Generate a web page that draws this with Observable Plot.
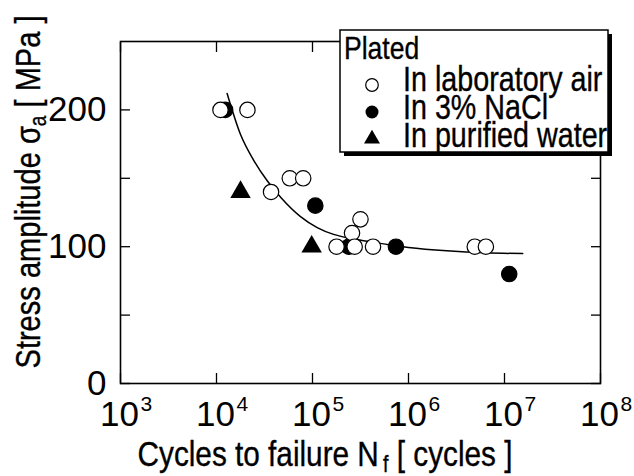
<!DOCTYPE html>
<html><head><meta charset="utf-8">
<script src="https://cdn.jsdelivr.net/npm/d3@7"></script>
<script src="https://cdn.jsdelivr.net/npm/@observablehq/plot@0.6"></script>
<style>body{margin:0;background:#fff}</style>
</head><body><div id="chart"></div>
<script>
// Plated, in laboratory air (open circles)
const airN = [1.1e4, 2.1e4, 3.7e4, 5.8e4, 8.0e4, 1.78e5, 2.58e5, 2.75e5, 3.16e5, 4.27e5, 4.9e6, 6.4e6];
const airS = [200, 200, 140, 150, 150, 100, 110, 100, 120, 100, 100, 100];
// Plated, in 3% NaCl (filled circles)
const naclN = [1.23e4, 1.07e5, 2.39e5, 7.4e5, 1.12e7];
const naclS = [200, 130, 100, 100, 80];
// Plated, in purified water (filled triangles)
const waterN = [1.78e4, 9.8e4];
const waterS = [140, 100];
// Fitted S-N curve
const fitN = [1.29e4, 1.78e4, 2.45e4, 3.39e4, 4.68e4, 7.5e4, 1.12e5, 1.66e5, 2.51e5, 3.72e5, 6.17e5, 1e6, 2.51e6, 6.31e6, 1.55e7];
const fitS = [212, 182, 163, 148, 136, 122, 114, 109, 106, 104, 101.5, 99.5, 97, 95.5, 95];
// Axis ticks
const xTicks = [1e3, 1e4, 1e5, 1e6, 1e7, 1e8];
const xExp = ["3", "4", "5", "6", "7", "8"];
const yTicks = [0, 50, 100, 150, 200];
const yLabels = [0, 100, 200];
const legendTitle = "Plated";
const legendItems = ["In laboratory air", "In 3% NaCl", "In purified water"];

const air = airN.map((n, i) => ({n, s: airS[i]}));
const nacl = naclN.map((n, i) => ({n, s: naclS[i]}));
const water = waterN.map((n, i) => ({n, s: waterS[i]}));
const fit = fitN.map((n, i) => ({n, s: fitS[i]}));
const FONT = "'Liberation Sans', Arial, Helvetica, sans-serif";
const SX = 0.83; // condensed look of the original Helvetica-like face

const svgEl = Plot.plot({
  width: 634, height: 476,
  marginLeft: 120, marginRight: 34, marginTop: 41, marginBottom: 93,
  x: {type: "log", domain: [1e3, 1e8]},
  y: {domain: [0, 250]},
  style: {fontFamily: FONT, fontSize: "35px", color: "black", background: "white"},
  marks: [
    Plot.axisX({anchor: "bottom", ticks: xTicks, tickSize: -10, tickFormat: () => "", label: null, strokeWidth: 1.3}),
    Plot.axisX({anchor: "top", ticks: xTicks, tickSize: -10, tickFormat: () => "", label: null, strokeWidth: 1.3}),
    Plot.axisY({anchor: "left", ticks: yTicks, tickSize: -10, tickFormat: () => "", label: null, strokeWidth: 1.3}),
    Plot.axisY({anchor: "right", ticks: yTicks, tickSize: -10, tickFormat: () => "", label: null, strokeWidth: 1.3}),
    Plot.frame({stroke: "black", strokeWidth: 1.6}),
    Plot.text(xTicks, {x: d => d, frameAnchor: "bottom", text: () => "10", lineAnchor: "bottom", dy: 42, dx: -1, fontSize: 35, ariaLabel: "xtick"}),
    Plot.text(xTicks, {x: d => d, frameAnchor: "bottom", text: (d, i) => xExp[i], lineAnchor: "bottom", dy: 27, dx: 20, textAnchor: "start", fontSize: 21, ariaLabel: "xtick"}),
    Plot.text(yLabels, {y: d => d, frameAnchor: "left", text: d => String(d), textAnchor: "end", dx: -14, fontSize: 35, ariaLabel: "ytick"}),
    Plot.line(fit, {x: "n", y: "s", curve: "monotone-x", stroke: "black", strokeWidth: 1.5}),
    Plot.dot(water, {x: "n", y: "s", symbol: "triangle", r: 7.6, fill: "black", stroke: "none"}),
    Plot.dot(nacl, {x: "n", y: "s", r: 7.7, fill: "black", stroke: "black", strokeWidth: 1.2}),
    Plot.dot(air, {x: "n", y: "s", r: 7.7, fill: "white", stroke: "black", strokeWidth: 1.2})
  ]
});
document.getElementById("chart").appendChild(svgEl);

const svg = d3.select(svgEl);
// condense the tick-label glyphs horizontally (about their anchor) and thicken slightly
function condense(sel, k) {
  sel.each(function () {
    const t = this.getAttribute("transform") || "";
    this.setAttribute("transform", t + ` scale(${k},1)`);
    this.setAttribute("stroke", "black");
    this.setAttribute("stroke-width", "0.35");
  });
}
condense(svg.selectAll('g[aria-label="xtick"] text'), 0.86);
condense(svg.selectAll('g[aria-label="ytick"] text'), 0.94);

// X title
const xt = svg.append("text").attr("transform", `translate(325,466) scale(0.85,1)`).attr("text-anchor", "middle")
  .attr("font-family", FONT).attr("font-size", 35).attr("fill", "black").attr("stroke", "black").attr("stroke-width", 0.35);
xt.append("tspan").text("Cycles to failure N");
xt.append("tspan").attr("font-size", 23).attr("dx", 5).attr("dy", 6).text("f");
xt.append("tspan").attr("dy", -6).text(" [ cycles ]");
// Y title
const yt = svg.append("text").attr("transform", `translate(40,192) rotate(-90) scale(${SX},1)`).attr("text-anchor", "middle")
  .attr("font-family", FONT).attr("font-size", 35).attr("fill", "black").attr("stroke", "black").attr("stroke-width", 0.35);
yt.append("tspan").text("Stress amplitude σ");
yt.append("tspan").attr("font-size", 23).attr("dy", 6).text("a");
yt.append("tspan").attr("dy", -6).text(" [ MPa ]");

// Legend
const lg = svg.append("g").attr("font-family", FONT).attr("font-size", 35).attr("fill", "black").attr("text-anchor", "start");
lg.append("rect").attr("x", 344).attr("y", 34).attr("width", 268).attr("height", 122).attr("fill", "black");
lg.append("rect").attr("x", 340).attr("y", 30).attr("width", 268).attr("height", 122).attr("fill", "white").attr("stroke", "black").attr("stroke-width", 1.5);
lg.append("text").attr("transform", `translate(344,59) scale(${SX},1)`).attr("font-size", 32)
  .attr("stroke", "black").attr("stroke-width", 0.35).text(legendTitle);
const rows = [85, 112, 139];
lg.append("circle").attr("cx", 372).attr("cy", rows[0]).attr("r", 6.3).attr("fill", "white").attr("stroke", "black").attr("stroke-width", 1.2);
lg.append("circle").attr("cx", 372).attr("cy", rows[1]).attr("r", 6.5).attr("fill", "black");
lg.append("path").attr("transform", `translate(372,${rows[2]})`).attr("d", d3.symbol(d3.symbolTriangle, 110)()).attr("fill", "black");
const baselines = [91, 119, 147];
legendItems.forEach((t, i) => {
  lg.append("text").attr("transform", `translate(403,${baselines[i]}) scale(0.82,1)`)
    .attr("stroke", "black").attr("stroke-width", 0.35).text(t);
});
</script>
</body></html>
